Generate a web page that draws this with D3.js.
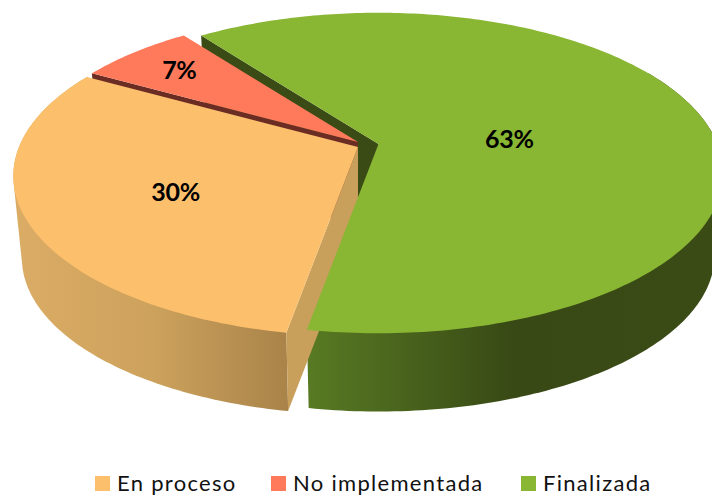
<!DOCTYPE html>
<html><head><meta charset="utf-8">
<script src="https://cdn.jsdelivr.net/npm/d3@7/dist/d3.min.js"></script>
<style>html,body{margin:0;background:#fff}svg{display:block}</style></head>
<body><svg id="c" width="712" height="495"></svg>
<script>
const categories = ["En proceso", "No implementada", "Finalizada"];
const values = [30.4, 6.6, 63.0];
const colors = ["#FCBF6C", "#FE7A5B", "#89B633"];
const sideColors = ["#C99F5C", "#6B2C24", "#3A4B16"];

const svg = d3.select("#c");
const colour = d3.scaleOrdinal(categories, colors);
const sideColour = d3.scaleOrdinal(categories, sideColors);

const startA = 190 * Math.PI / 180;
const arcs = d3.pie().value((d, i) => values[i]).sort(null)
  .startAngle(startA).endAngle(startA + 2 * Math.PI)(categories);
const byName = new Map(arcs.map(a => [a.data, a]));

// perspective projection of the unit disc
const A = 339, B = 155, P = 0.181, DEPTH = 80, SHRINK = 0.975;
const apex = new Map([["En proceso", [358, 147]], ["No implementada", [358, 142]], ["Finalizada", [378.5, 144]]]);
const RIM = new Map([["En proceso", 1], ["No implementada", 0.98], ["Finalizada", 1]]);
function proj(name, t, r, low) {
  const [ax, ay] = apex.get(name);
  const X = r * Math.sin(t), Y = r * Math.cos(t), w = 1 + P * Y;
  const s = low ? SHRINK : 1;
  return [ax + s * A * X / w, ay - s * B * Y / w + (low ? DEPTH + 3 : 0)];
}
const line = d3.line();
function rim(name, a0, a1, r, low) {
  const n = Math.max(2, Math.ceil(Math.abs(a1 - a0) * 60));
  return d3.range(n + 1).map(i => proj(name, a0 + (a1 - a0) * i / n, r, low));
}
function topPath(a) {
  return line([proj(a.data, 0, 0, false), ...rim(a.data, a.startAngle, a.endAngle, RIM.get(a.data), false)]) + "Z";
}
// the wall is the hull of its upper and lower rim; the tops hide the inner part
function outerWall(name, a0, a1) {
  const r = RIM.get(name);
  return line(d3.polygonHull([...rim(name, a0, a1, r, false), ...rim(name, a0, a1, r, true)])) + "Z";
}
function cutWall(name, t) {
  const r = RIM.get(name);
  return line([proj(name, 0, 0, false), proj(name, t, r, false), proj(name, t, r, true), proj(name, 0, 0, true)]) + "Z";
}

// gradients of the outer walls
const defs = svg.append("defs");
function grad(id, stops, x1, x2) {
  const g = defs.append("linearGradient").attr("id", id).attr("gradientUnits", "userSpaceOnUse")
    .attr("x1", x1).attr("x2", x2).attr("y1", 0).attr("y2", 0);
  stops.forEach(s => g.append("stop").attr("offset", s[0]).attr("stop-color", s[1]));
}
grad("gOrange", [[0, "#DBAC65"], [0.5, "#CDA25D"], [1, "#A98349"]], 15, 288);
grad("gGreen", [[0, "#587A23"], [0.51, "#384915"], [1, "#3A4B16"]], 308, 712);

const f = byName.get("Finalizada"), o = byName.get("En proceso"), n = byName.get("No implementada");

// back to front: green and red cut walls, green front wall, orange walls, tops
svg.append("path").attr("d", cutWall("Finalizada", f.startAngle)).attr("fill", sideColour("Finalizada"));
svg.append("path").attr("d", cutWall("No implementada", n.startAngle)).attr("fill", sideColour("No implementada"));
svg.append("path").attr("d", outerWall("Finalizada", f.endAngle - 130 * Math.PI / 180, f.endAngle)).attr("fill", "url(#gGreen)");
svg.append("path").attr("d", outerWall("En proceso", o.startAngle, o.endAngle)).attr("fill", "url(#gOrange)");
svg.append("path").attr("d", cutWall("En proceso", o.startAngle)).attr("fill", sideColour("En proceso"));
[n, o, f].forEach(a => {
  svg.append("path").attr("d", topPath(a)).attr("fill", colour(a.data));
});

// labels
const labelPlace = new Map([["En proceso", [-0.05, 0.58]], ["No implementada", [0, 0.766]], ["Finalizada", [0.147, 0.39]]]);
arcs.forEach(a => {
  const [shift, r] = labelPlace.get(a.data);
  const p = proj(a.data, (a.startAngle + a.endAngle) / 2 + shift, r, false);
  svg.append("text").attr("x", p[0]).attr("y", p[1]).attr("dy", "0.36em")
    .attr("text-anchor", "middle")
    .attr("font-family", "Lato, sans-serif").attr("font-weight", 700).attr("font-size", 25)
    .attr("letter-spacing", -0.3).attr("fill", "#000")
    .text(Math.round(values[categories.indexOf(a.data)]) + "%");
});

// legend
const legendX = d3.scaleOrdinal(categories, [95, 271, 521]);
const legend = svg.append("g").selectAll("g").data(categories).join("g");
legend.append("rect").attr("x", d => legendX(d)).attr("y", 476).attr("width", 15).attr("height", 15)
  .attr("fill", d => colour(d));
legend.append("text").attr("x", d => legendX(d) + 22).attr("y", 491)
  .attr("font-family", "Lato, sans-serif").attr("font-size", 22).attr("letter-spacing", 1.3)
  .attr("fill", "#111").text(d => d);
</script></body></html>
